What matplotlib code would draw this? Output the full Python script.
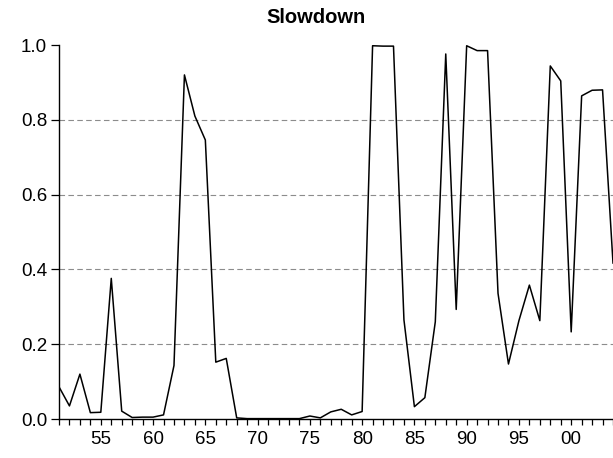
import numpy as np
import matplotlib.pyplot as plt
from matplotlib.ticker import MultipleLocator, FixedLocator

plt.rcParams['font.family'] = ['Liberation Sans', 'DejaVu Sans']

# annual series, 1951-2004
years = np.arange(1951, 2005)
slowdown = [
    0.086, 0.035, 0.120, 0.017, 0.018, 0.376, 0.021, 0.004, 0.005, 0.005,  # 1951-60
    0.011, 0.143, 0.920, 0.810, 0.746, 0.152, 0.162, 0.003, 0.001, 0.001,  # 1961-70
    0.001, 0.001, 0.001, 0.001, 0.008, 0.003, 0.019, 0.026, 0.011, 0.020,  # 1971-80
    0.998, 0.997, 0.997, 0.265, 0.033, 0.057, 0.260, 0.976, 0.293, 0.998,  # 1981-90
    0.985, 0.985, 0.336, 0.147, 0.263, 0.358, 0.263, 0.944, 0.904, 0.233,  # 1991-00
    0.864, 0.879, 0.880, 0.417,  # 2001-04
]
major_years = list(range(1955, 2001, 5))
major_labels = ['55', '60', '65', '70', '75', '80', '85', '90', '95', '00']
y_ticks = [0.0, 0.2, 0.4, 0.6, 0.8, 1.0]

fig = plt.figure(figsize=(6.13, 4.58), dpi=100)
ax = fig.add_axes([59 / 613, 1 - 419 / 458, 1 - 59 / 613, (419 - 45) / 458])

ax.plot(years, slowdown, color='black', linewidth=1.1)

ax.set_xlim(1951, 2004)
ax.set_ylim(0, 1.0)

ax.xaxis.set_major_locator(FixedLocator(major_years))
ax.set_xticklabels(major_labels)
ax.xaxis.set_minor_locator(MultipleLocator(1))
ax.set_yticks(y_ticks)
ax.set_yticklabels(['%.1f' % v for v in y_ticks])

for v in y_ticks[1:-1]:
    ax.axhline(v, color='#8c8c8c', linestyle=(0, (5, 3)), linewidth=0.8, zorder=0)

for side in ['top', 'right']:
    ax.spines[side].set_visible(False)
ax.spines['left'].set_linewidth(1.0)
ax.spines['bottom'].set_linewidth(1.0)

ax.tick_params(axis='x', which='major', direction='out', length=4.5, width=0.9,
               labelsize=13.5, pad=4.5)
ax.tick_params(axis='x', which='minor', direction='out', length=4, width=0.9)
ax.tick_params(axis='y', direction='out', length=5.5, width=0.9, labelsize=13.5, pad=3)

fig.text(316 / 613, 1 - 23 / 458, 'Slowdown', ha='center', va='baseline',
         fontsize=14.5, fontweight='bold')

fig.savefig('out.png', dpi=100)
